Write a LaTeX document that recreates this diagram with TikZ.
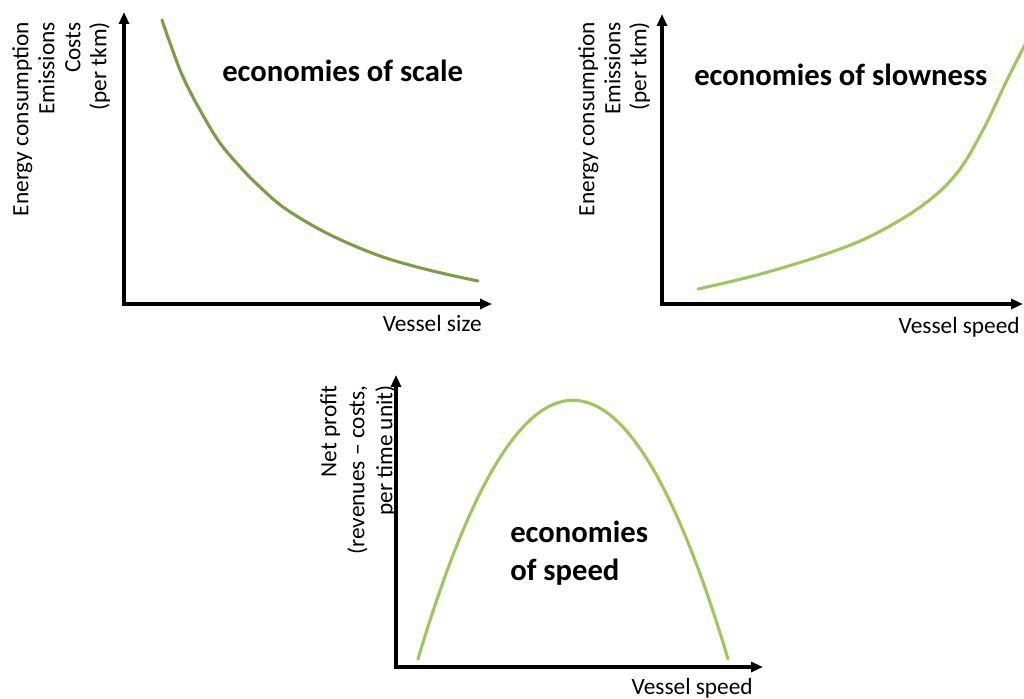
\documentclass[tikz,border=0pt]{standalone}
\usepackage{fontspec}
\setmainfont{Carlito}
\usetikzlibrary{arrows.meta}
\definecolor{scalegreen}{HTML}{7A9D47}
\definecolor{speedgreen}{HTML}{9DC75B}
\begin{document}
\begin{tikzpicture}[x=0.75pt, y=0.75pt,
    axis/.style={line width=2.5pt, {Triangle[length=9pt,width=7.5pt]}-{Triangle[length=9pt,width=7.5pt]}},
    curvedark/.style={line width=2.3pt, scalegreen, line cap=round},
    curvelight/.style={line width=2.3pt, speedgreen, line cap=round},
    ylab/.style={rotate=90, align=right, inner sep=0pt, anchor=north east, font=\fontsize{17.5}{19.5}\selectfont},
    xlab/.style={inner sep=0pt, anchor=base east, font=\fontsize{17.5}{19.5}\selectfont},
    title/.style={inner sep=0pt, anchor=base west, align=left, font=\bfseries\fontsize{23}{28.5}\selectfont}]
        \useasboundingbox (0,0) rectangle (1024,-699);
        \coordinate (o1) at (124,-304);
        \coordinate (y1) at (124,-12);
        \coordinate (x1) at (492,-304);
        \coordinate (o2) at (662,-304);
        \coordinate (y2) at (662,-14);
        \coordinate (x2) at (1023,-304);
        \coordinate (o3) at (396,-667);
        \coordinate (y3) at (396,-375);
        \coordinate (x3) at (763,-667);
        \draw [curvedark] plot [smooth, tension=0.6] coordinates {(162,-20) (170,-43) (183,-77) (200,-110) (220,-143) (243,-170) (260,-187) (283,-207) (317,-228) (350,-244) (383,-257) (417,-267) (450,-275) (478,-281)};
        \draw [curvelight] plot [smooth, tension=0.6] coordinates {(698,-289) (757,-275) (823,-255) (873,-235) (923,-205) (957,-173) (983,-130) (1007,-80) (1030,-35)};
        \draw [curvelight] (418,-659) .. controls (521,-314) and (625,-314) .. (728,-659);
        \draw [axis] (y1) -- (o1) -- (x1);
        \draw [axis] (y2) -- (o2) -- (x2);
        \draw [axis] (y3) -- (o3) -- (x3);
        \node [ylab] (cost1) at (12,-22) {Energy consumption\\Emissions\\Costs\\(per tkm)};
        \node [ylab] (cost2) at (578,-22) {Energy consumption\\Emissions\\(per tkm)};
        \node [ylab, font=\fontsize{17.5}{21}\selectfont] (profit) at (320,-385) {Net profit\\(revenues – costs,\\per time unit)};
        \node [xlab] (size1) at (482,-331) {Vessel size};
        \node [xlab] (speed2) at (1020,-333) {Vessel speed};
        \node [xlab] (speed3) at (753,-694) {Vessel speed};
        \node [title] (scale) at (222,-81) {economies of scale};
        \node [title] (slowness) at (694,-85) {economies of slowness};
        \node [title] (speed) at (510,-580) {economies\\of speed};
\end{tikzpicture}
\end{document}
